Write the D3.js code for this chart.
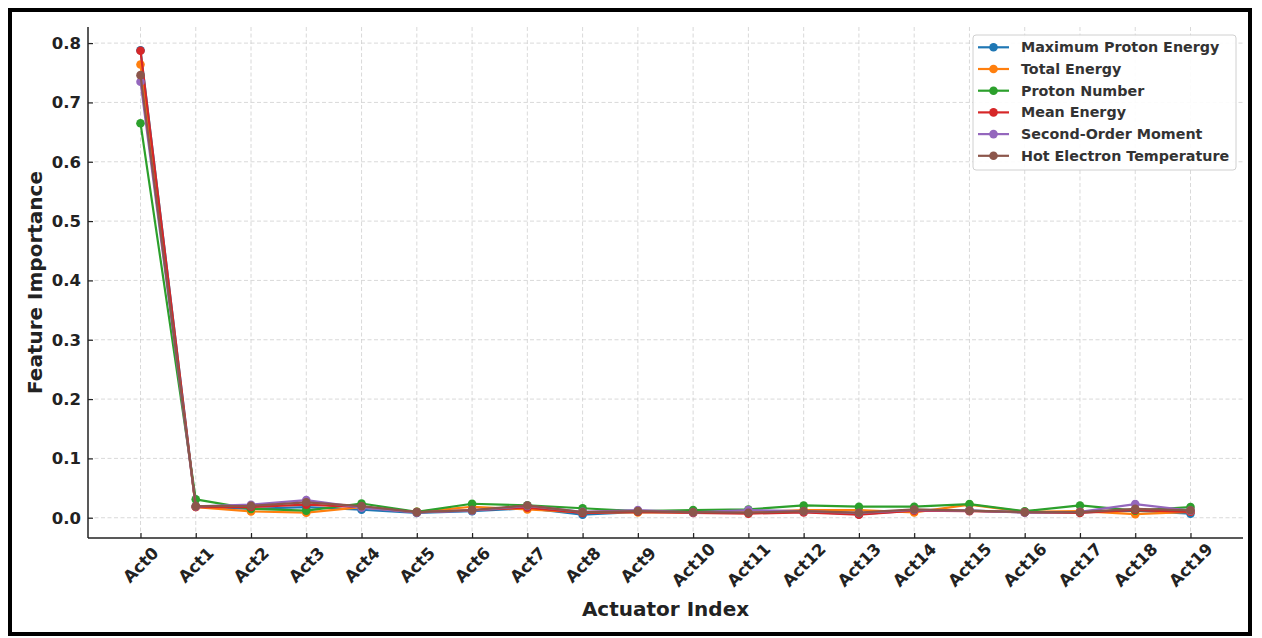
<!DOCTYPE html>
<html>
<head>
<meta charset="utf-8">
<script src="https://cdn.jsdelivr.net/npm/d3@7/dist/d3.min.js"></script>
<style>
  html, body { margin: 0; padding: 0; background: #fff; }
  svg { display: block; }
  svg text { font-family: "DejaVu Sans", sans-serif; }
</style>
</head>
<body>
<svg id="chart" width="1262" height="638"></svg>
<script>
// Actuator labels along the x axis
const actuators = ["Act0","Act1","Act2","Act3","Act4","Act5","Act6","Act7","Act8","Act9",
                   "Act10","Act11","Act12","Act13","Act14","Act15","Act16","Act17","Act18","Act19"];

const seriesNames = ["Maximum Proton Energy","Total Energy","Proton Number",
                     "Mean Energy","Second-Order Moment","Hot Electron Temperature"];

// Feature importance per actuator, one array per target quantity
const maxProtonEnergy = [0.788,0.019,0.015,0.018,0.0135,0.008,0.011,0.016,0.005,0.010,
                         0.009,0.008,0.010,0.006,0.012,0.012,0.009,0.009,0.012,0.007];
const totalEnergy     = [0.764,0.018,0.0106,0.0085,0.018,0.010,0.0185,0.014,0.009,0.009,
                         0.009,0.009,0.013,0.013,0.009,0.022,0.010,0.011,0.006,0.010];
const protonNumber    = [0.665,0.031,0.015,0.012,0.024,0.010,0.0236,0.021,0.016,0.011,
                         0.0128,0.014,0.0207,0.0186,0.0186,0.023,0.011,0.0207,0.012,0.018];
const meanEnergy      = [0.787,0.018,0.018,0.022,0.018,0.009,0.013,0.017,0.008,0.010,
                         0.008,0.007,0.009,0.005,0.012,0.011,0.009,0.008,0.013,0.010];
const secondMoment    = [0.735,0.019,0.022,0.0297,0.017,0.009,0.012,0.020,0.010,0.013,
                         0.009,0.013,0.011,0.008,0.013,0.012,0.009,0.010,0.023,0.012];
const hotElectronTemp = [0.746,0.0196,0.020,0.026,0.0196,0.0095,0.0128,0.0207,0.0095,0.0112,
                         0.0095,0.0085,0.0112,0.0085,0.014,0.012,0.0095,0.0095,0.015,0.0125];

const yTicks = [0.0,0.1,0.2,0.3,0.4,0.5,0.6,0.7,0.8];
const colors = ["#1f77b4","#ff7f0e","#2ca02c","#d62728","#9467bd","#8c564b"];

const series = [maxProtonEnergy,totalEnergy,protonNumber,meanEnergy,secondMoment,hotElectronTemp]
  .map((vals,i) => ({ name: seriesNames[i], color: colors[i], values: vals }));

const svg = d3.select("#chart");
const FONT = "DejaVu Sans";
const plot = { left: 88, right: 1243, top: 27, bottom: 538 };

// Frame around the whole figure
svg.append("rect").attr("x",10).attr("y",10).attr("width",1240).attr("height",624)
  .attr("fill","none").attr("stroke","#000").attr("stroke-width",4);

const allVals = series.flatMap(s => s.values);
const vmin = d3.min(allVals), vmax = d3.max(allVals);
const pad = (vmax - vmin) * 0.05;

const x = d3.scaleLinear().domain([-0.95, actuators.length - 1 + 0.95]).range([plot.left, plot.right]);
const y = d3.scaleLinear().domain([vmin - pad, vmax + pad]).range([plot.bottom, plot.top]);

// Grid
const grid = svg.append("g").attr("stroke","#cfcfcf").attr("stroke-width",0.8).attr("stroke-dasharray","4,2.5");
grid.selectAll("line.v").data(actuators).enter().append("line")
  .attr("x1",(d,i)=>x(i)).attr("x2",(d,i)=>x(i)).attr("y1",plot.top).attr("y2",plot.bottom);
grid.selectAll("line.h").data(yTicks).enter().append("line")
  .attr("x1",plot.left).attr("x2",plot.right).attr("y1",d=>y(d)).attr("y2",d=>y(d));

// Axes
const yAxis = svg.append("g").attr("transform",`translate(${plot.left},0)`)
  .call(d3.axisLeft(y).tickValues(yTicks).tickFormat(d3.format(".1f")).tickSizeInner(-5).tickSizeOuter(0).tickPadding(7));
yAxis.attr("font-family",FONT);
yAxis.select(".domain").remove();
yAxis.selectAll("line").attr("stroke","#222").attr("stroke-width",1.2);
yAxis.selectAll("text").attr("font-size",16.5).attr("font-weight","bold").attr("fill","#222");

const xAxis = svg.append("g").attr("transform",`translate(0,${plot.bottom})`)
  .call(d3.axisBottom(x).tickValues(d3.range(actuators.length)).tickFormat(i=>actuators[i]).tickSizeInner(-5).tickSizeOuter(0));
xAxis.attr("font-family",FONT);
xAxis.select(".domain").remove();
xAxis.selectAll("line").attr("stroke","#222").attr("stroke-width",1.2);
xAxis.selectAll("text")
  .attr("font-size",16.5).attr("font-weight","bold").attr("fill","#222")
  .attr("text-anchor","middle").attr("dominant-baseline","central")
  .attr("y",0).attr("dy",0)
  .attr("transform",`translate(0,27) rotate(-45)`);

// Spines (left and bottom)
svg.append("line").attr("x1",plot.left).attr("x2",plot.left).attr("y1",plot.top).attr("y2",plot.bottom)
  .attr("stroke","#222").attr("stroke-width",1.5);
svg.append("line").attr("x1",plot.left).attr("x2",plot.right).attr("y1",plot.bottom).attr("y2",plot.bottom)
  .attr("stroke","#222").attr("stroke-width",1.5);

// Series lines and markers
const line = d3.line().x((d,i)=>x(i)).y(d=>y(d));
series.forEach(s => {
  const g = svg.append("g");
  g.append("path").datum(s.values).attr("d",line).attr("fill","none")
    .attr("stroke",s.color).attr("stroke-width",2.2).attr("stroke-linejoin","round");
  g.selectAll("circle").data(s.values).enter().append("circle")
    .attr("cx",(d,i)=>x(i)).attr("cy",d=>y(d)).attr("r",4.3).attr("fill",s.color);
});

// Axis titles
svg.append("text").attr("x",(plot.left+plot.right)/2).attr("y",609)
  .attr("text-anchor","middle").attr("dominant-baseline","central").attr("font-family",FONT)
  .attr("font-size",20).attr("font-weight","bold").attr("fill","#222").text("Actuator Index");
svg.append("text").attr("transform",`translate(35,${(plot.top+plot.bottom)/2}) rotate(-90)`)
  .attr("text-anchor","middle").attr("dominant-baseline","central").attr("font-family",FONT)
  .attr("font-size",20).attr("font-weight","bold").attr("fill","#222").text("Feature Importance");

// Legend
const lg = svg.append("g").attr("font-family",FONT);
lg.append("rect").attr("x",973).attr("y",35).attr("width",263).attr("height",135)
  .attr("rx",3).attr("fill","#fff").attr("fill-opacity",0.9).attr("stroke","#d0d0d0").attr("stroke-width",1);
series.forEach((s,i) => {
  const yy = 47.3 + i*21.7;
  lg.append("line").attr("x1",978).attr("x2",1009).attr("y1",yy).attr("y2",yy)
    .attr("stroke",s.color).attr("stroke-width",2.2);
  lg.append("circle").attr("cx",993.5).attr("cy",yy).attr("r",4.3).attr("fill",s.color);
  lg.append("text").attr("x",1021).attr("y",yy).attr("dominant-baseline","central")
    .attr("font-size",14.3).attr("font-weight","bold").attr("fill","#333").text(s.name);
});
</script>
</body>
</html>
